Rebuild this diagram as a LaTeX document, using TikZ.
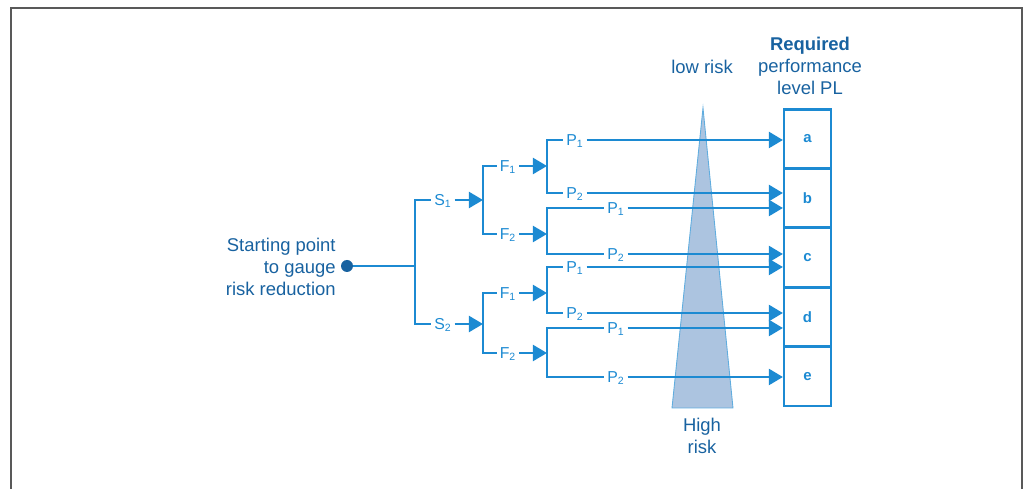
\documentclass[tikz,border=0pt]{standalone}
\usepackage{fontspec}
\setmainfont{Liberation Sans}
\usetikzlibrary{arrows.meta}
\definecolor{lineblue}{RGB}{28,138,210}
\definecolor{textblue}{RGB}{24,98,160}
\definecolor{riskfill}{RGB}{172,196,224}

\begin{document}
\begin{tikzpicture}[x=0.02cm,y=-0.02cm]
\tikzset{txt/.style = {text=textblue, font=\fontsize{10.5}{12.7}\selectfont,
	align=center, inner sep=0pt}}
\tikzset{tag/.style = {text=lineblue, font=\fontsize{9}{10}\selectfont,
	inner sep=1.5pt, text height=6.5pt, text depth=0pt}}
\tikzset{plbox/.style = {draw=lineblue, line width=1.2pt, minimum width=0.94cm,
	minimum height=1.18cm, text=lineblue, font=\fontsize{8.5}{9}\selectfont\bfseries}}
\tikzset{dot/.style = {circle, fill=textblue, inner sep=0pt, minimum size=0.24cm}}
\tikzset{link/.style = {draw=lineblue, line width=1.6pt}}
\tikzset{linkarr/.style = {link, -{Triangle[length=8pt,width=9pt]}}}
\useasboundingbox (0,0) rectangle (1029,489);
% frame
\draw[gray!70!black, line width=1.1pt] (11,489) -- (11,8) -- (1022,8) -- (1022,489);
% risk wedge
\filldraw[fill=riskfill, draw=lineblue!70, line width=0.5pt]
	(703,108) -- (733,408) -- (672,408) -- cycle;

% nodes
\node[dot] (start) at (347,266) {};
\node[txt, anchor=east, align=right] (startlbl) at (336,267)
	{Starting point\\to gauge\\risk reduction};
\coordinate (j0) at (415,266);
\node[tag] (s1) at (443,200) {S\textsubscript{1}};
\node[tag] (s2) at (443,324) {S\textsubscript{2}};
\coordinate (js1) at (483,200);
\coordinate (js2) at (483,324);
\node[tag] (f11) at (508,166) {F\textsubscript{1}};
\node[tag] (f12) at (508,234) {F\textsubscript{2}};
\node[tag] (f21) at (508,293) {F\textsubscript{1}};
\node[tag] (f22) at (508,353) {F\textsubscript{2}};
\coordinate (jf11) at (547,166);
\coordinate (jf12) at (547,234);
\coordinate (jf21) at (547,293);
\coordinate (jf22) at (547,353);
\node[tag] (p111) at (575,140) {P\textsubscript{1}};
\node[tag] (p112) at (575,193) {P\textsubscript{2}};
\node[tag] (p121) at (616,208) {P\textsubscript{1}};
\node[tag] (p122) at (616,254) {P\textsubscript{2}};
\node[tag] (p211) at (575,267) {P\textsubscript{1}};
\node[tag] (p212) at (575,313) {P\textsubscript{2}};
\node[tag] (p221) at (616,328) {P\textsubscript{1}};
\node[tag] (p222) at (616,377) {P\textsubscript{2}};
% PL boxes
\node[plbox] (a) at (807.5,139) {a};
\node[plbox] (b) at (807.5,198) {b};
\node[plbox] (c) at (807.5,257.5) {c};
\node[plbox] (d) at (807.5,317) {d};
\node[plbox] (e) at (807.5,376.5) {e};
\node[txt] (low) at (702,67) {low risk};
\node[txt] (high) at (702,436) {High\\risk};
\node[txt] (req) at (810,66) {\textbf{Required}\\performance\\level PL};

%edges
\draw[link] (start) -- (j0);
\draw[link] (j0) |- (s1);
\draw[link] (j0) |- (s2);
\draw[linkarr] (s1) -- (js1);
\draw[linkarr] (s2) -- (js2);
\draw[link] (js1) |- (f11);
\draw[link] (js1) |- (f12);
\draw[link] (js2) |- (f21);
\draw[link] (js2) |- (f22);
\draw[linkarr] (f11) -- (jf11);
\draw[linkarr] (f12) -- (jf12);
\draw[linkarr] (f21) -- (jf21);
\draw[linkarr] (f22) -- (jf22);
\draw[link] (jf11) |- (p111);
\draw[link] (jf11) |- (p112);
\draw[link] (jf12) |- (p121);
\draw[link] (jf12) |- (p122);
\draw[link] (jf21) |- (p211);
\draw[link] (jf21) |- (p212);
\draw[link] (jf22) |- (p221);
\draw[link] (jf22) |- (p222);
\draw[linkarr] (p111) -- (p111 -| a.west);
\draw[linkarr] (p112) -- (p112 -| b.west);
\draw[linkarr] (p121) -- (p121 -| b.west);
\draw[linkarr] (p122) -- (p122 -| c.west);
\draw[linkarr] (p211) -- (p211 -| c.west);
\draw[linkarr] (p212) -- (p212 -| d.west);
\draw[linkarr] (p221) -- (p221 -| d.west);
\draw[linkarr] (p222) -- (p222 -| e.west);
\end{tikzpicture}
\end{document}
